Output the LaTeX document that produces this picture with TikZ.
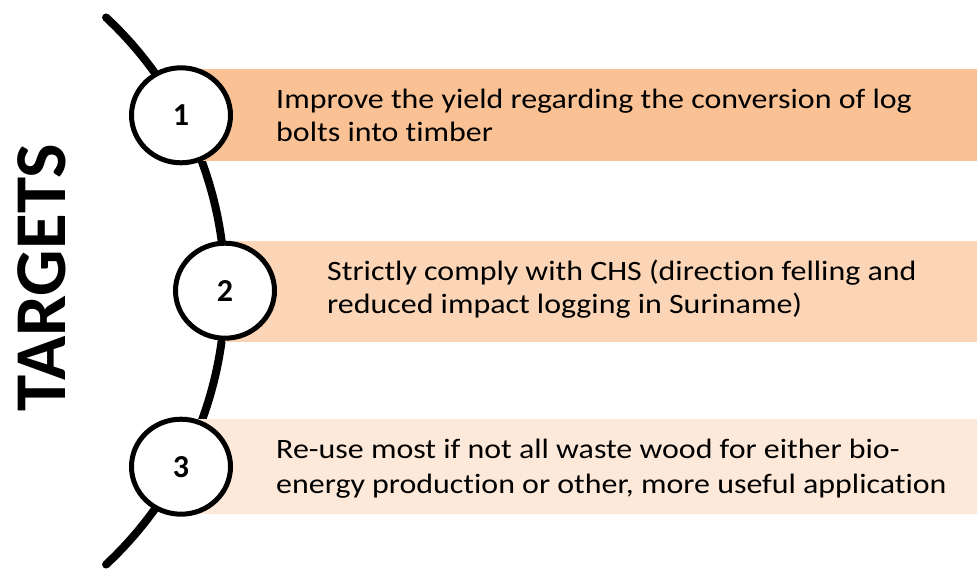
\documentclass[tikz,border=0pt]{standalone}
\usepackage{fontspec}
\setmainfont{Carlito}[Ligatures=NoCommon]
\usetikzlibrary{shapes.geometric}
\begin{document}
\begin{tikzpicture}[x=1pt,y=-1pt,
  band/.style={rectangle,inner sep=0pt,anchor=north west,draw=none},
  num/.style={ellipse,draw=black,line width=5pt,fill=white,minimum width=99pt,minimum height=95pt,inner sep=0pt,font=\fontsize{32}{36}\selectfont\bfseries},
  txt/.style={anchor=west,align=left,inner sep=0pt,xscale=1.14}]
\useasboundingbox (0,0) rectangle (977,569);
\definecolor{bandA}{HTML}{F9C194}
\definecolor{bandB}{HTML}{FBD5B6}
\definecolor{bandC}{HTML}{FDE9DA}
\draw[line width=8pt,line cap=round] (-149,291) ++(-47:374) arc[start angle=-47,end angle=47,radius=374];
\node[band,fill=bandA,minimum width=796pt,minimum height=92pt] (b1) at (181,69) {};
\node[band,fill=bandB,minimum width=752pt,minimum height=101pt] (b2) at (225,241) {};
\node[band,fill=bandC,minimum width=796pt,minimum height=95pt] (b3) at (181,419) {};
\node[num] (c1) at (181,115.3) {1};
\node[num] (c2) at (225,290.7) {2};
\node[num] (c3) at (181,466.7) {3};
\node[txt,font=\fontsize{28}{33}\selectfont] (t1) at (276,115) {Improve the yield regarding the conversion of log\\bolts into timber};
\node[txt,font=\fontsize{28}{33}\selectfont] (t2) at (327,289) {Strictly comply with CHS (direction felling and\\reduced impact logging in Suriname)};
\node[txt,font=\fontsize{28}{35}\selectfont] (t3) at (276,469) {Re-use most if not all waste wood for either bio-\\energy production or other, more useful application};
\node[rotate=90,inner sep=0pt,font=\fontsize{73}{78}\selectfont\bfseries] (title) at (41.5,277.5) {TARGETS};
\end{tikzpicture}
\end{document}
